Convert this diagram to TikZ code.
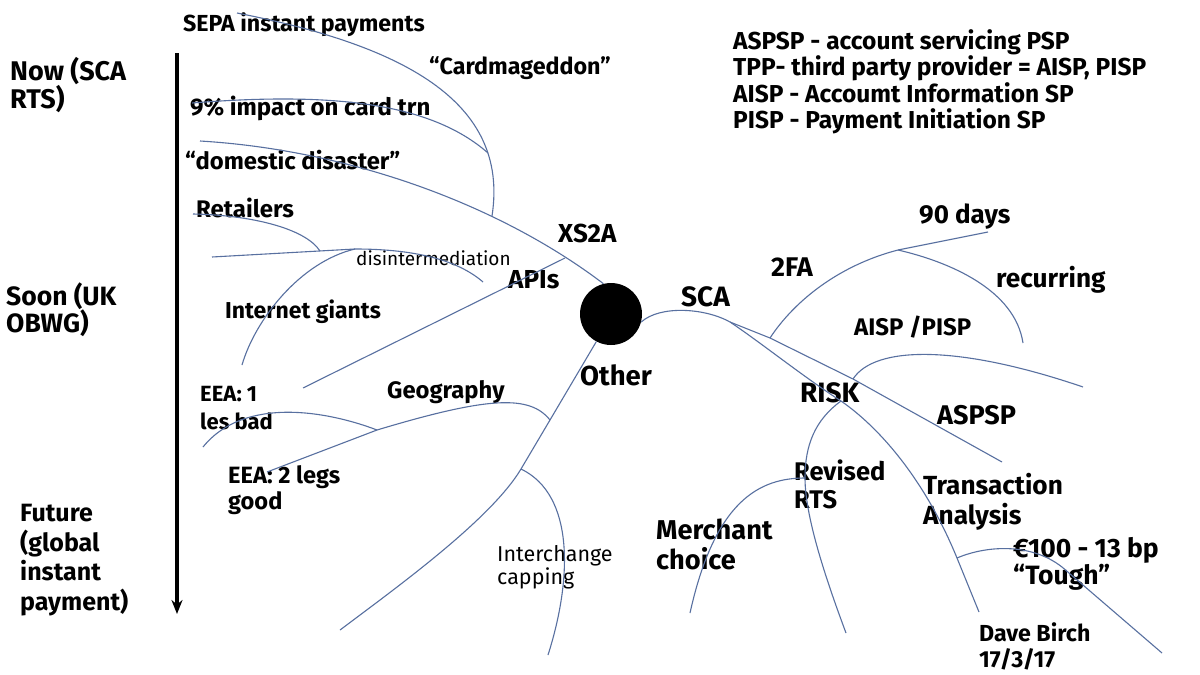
\documentclass[tikz,border=0pt]{standalone}
\usepackage{fontspec}
\setmainfont{Fira Sans}
\usetikzlibrary{arrows.meta}
\definecolor{lineblue}{RGB}{88,112,160}
\begin{document}
\begin{tikzpicture}[x=1pt,y=-1pt,
  lbl/.style n args={2}{inner sep=0pt, anchor=west, align=left, font=\fontsize{#1}{#2}\selectfont\bfseries},
  thinlbl/.style n args={2}{inner sep=0pt, anchor=west, align=left, font=\fontsize{#1}{#2}\selectfont},
  branch/.style={draw=lineblue, line width=1.1pt},
  hubstyle/.style={circle, fill=black, minimum size=62pt, inner sep=0pt}]
\useasboundingbox[fill=white] (0,0) rectangle (1200,675);

% timeline arrow
\coordinate (atop) at (177,53);
\coordinate (abot) at (177,614);
\draw[line width=3.5pt, -{Stealth[length=14pt,width=11pt]}] (atop) -- (abot);

% hub
\node[hubstyle] (hub) at (611,314) {};

% labels
\node[lbl={23.2}{28}] (sepa) at (183,25) {SEPA instant payments};
\node[lbl={27}{28}] (now) at (10,85) {Now (SCA\\RTS)};
\node[lbl={23.3}{28}] (cardm) at (429,68) {“Cardmageddon”};
\node[lbl={24}{28}] (nine) at (190,108) {9\% impact on card trn};
\node[lbl={23.8}{28}] (domestic) at (185,160) {“domestic disaster”};
\node[lbl={24}{28}] (retail) at (196,208) {Retailers};
\node[lbl={26}{28}] (xs2a) at (558,233) {XS2A};
\node[thinlbl={19}{23}] (disint) at (356,258) {disintermediation};
\node[lbl={26}{28}] (apis) at (508,280) {APIs};
\node[lbl={26.5}{27}] (soon) at (6,310) {Soon (UK\\OBWG)};
\node[lbl={23}{28}] (giants) at (225,312) {Internet giants};
\node[lbl={27.5}{28}] (other) at (580,375) {Other};
\node[lbl={22}{28}] (eea1) at (200,408) {EEA: 1\\les bad};
\node[lbl={23.8}{28}] (geo) at (387,392) {Geography};
\node[lbl={23.6}{26}] (eea2) at (228,490) {EEA: 2 legs\\good};
\node[lbl={25}{29.5}] (future) at (20,560) {Future\\(global\\instant\\payment)};
\node[thinlbl={21.5}{23}] (inter) at (497,567) {Interchange\\capping};
\node[lbl={26}{28}] (days) at (919,217) {90 days};
\node[lbl={27}{28}] (twofa) at (771,267) {2FA};
\node[lbl={26.2}{28}] (recur) at (996,280) {recurring};
\node[lbl={28}{28}] (sca) at (681,297) {SCA};
\node[lbl={24}{28}] (aisp) at (854,327) {AISP /PISP};
\node[lbl={28}{28}] (risk) at (800,393) {RISK};
\node[lbl={27}{28}] (aspsp) at (937,415) {ASPSP};
\node[lbl={25.5}{28}] (revised) at (794,484) {Revised\\RTS};
\node[lbl={26.2}{30}] (trans) at (923,502) {Transaction\\Analysis};
\node[lbl={27.2}{30}] (merchant) at (656,544) {Merchant\\choice};
\node[lbl={26.5}{27}] (euro) at (1013,564) {€100 - 13 bp\\“Tough”};
\node[lbl={23.2}{26}] (dave) at (979,646) {Dave Birch\\17/3/17};
\node[lbl={24.5}{26.5}] (legend) at (733,82) {ASPSP - account servicing PSP\\TPP- third party provider = AISP, PISP\\AISP - Accoumt Information SP\\PISP - Payment Initiation SP};

% ---- left side branches ----
\coordinate (dA) at (200,141);
\draw[branch] (dA) .. controls (350,150) and (500,205) .. (hub.104);

\coordinate (sA) at (237,13);
\coordinate (sB) at (492,216);
\draw[branch] (sA) .. controls (400,45) and (510,100) .. (sB);

\coordinate (nA) at (192,103);
\coordinate (nB) at (488,153);
\draw[branch] (nA) .. controls (330,92) and (430,102) .. (nB);

\coordinate (rA) at (193,214);
\coordinate (rB) at (320,251);
\draw[branch] (rA) .. controls (250,215) and (305,228) .. (rB);

\coordinate (iA) at (212,257);
\coordinate (iJ) at (355,249);
\coordinate (iB) at (483,282);
\draw[branch] (iA) -- (iJ) .. controls (420,249) and (460,262) .. (iB);

\coordinate (gB) at (242,365);
\draw[branch] (iJ) .. controls (300,262) and (255,320) .. (gB);

\coordinate (apA) at (303,388);
\coordinate (apB) at (565,258);
\draw[branch] (apA) -- (apB);

\coordinate (oJ1) at (550,420);
\coordinate (oJ2) at (521,469);
\coordinate (oB) at (340,630);
\draw[branch] (hub.242) -- (oJ1) -- (oJ2) .. controls (491,519) and (400,585) .. (oB);

\coordinate (geoJ) at (377,430);
\coordinate (geoB) at (267,472);
\draw[branch] (oJ1) .. controls (530,395) and (490,396) .. (geoJ) -- (geoB);

\coordinate (e1B) at (203,447);
\draw[branch] (geoJ) .. controls (330,412) and (245,395) .. (e1B);

\coordinate (icB) at (548,655);
\draw[branch] (oJ2) .. controls (575,495) and (572,580) .. (icB);

% ---- right side branches ----
\coordinate (scaJ) at (730,322);
\draw[branch] (hub.-15) .. controls (660,305) and (705,308) .. (scaJ);

\coordinate (fJ) at (770,338);
\coordinate (aJ) at (853,379);
\coordinate (upB) at (1002,462);
\draw[branch] (scaJ) -- (fJ) -- (aJ) -- (upB);

\coordinate (rJ) at (841,401);
\draw[branch] (scaJ) .. controls (760,342) and (805,378) .. (rJ);

\coordinate (tJ) at (898,250);
\coordinate (tB) at (988,232);
\draw[branch] (fJ) .. controls (795,300) and (840,265) .. (tJ) -- (tB);

\coordinate (recB) at (1023,343);
\draw[branch] (tJ) .. controls (950,262) and (1015,290) .. (recB);

\coordinate (apsB) at (1083,387);
\draw[branch] (aJ) .. controls (875,345) and (960,345) .. (apsB);

\coordinate (trJ) at (957,558);
\coordinate (trB) at (979,612);
\draw[branch] (rJ) .. controls (880,428) and (925,480) .. (trJ) -- (trB);

\coordinate (euJ) at (1062,567);
\coordinate (euB) at (1162,653);
\draw[branch] (trJ) .. controls (985,546) and (1030,542) .. (euJ) -- (euB);

\coordinate (mJ) at (805,478);
\coordinate (rvB) at (846,633);
\draw[branch] (rJ) .. controls (815,420) and (805,445) .. (mJ) .. controls (805,520) and (830,590) .. (rvB);

\coordinate (meB) at (690,613);
\draw[branch] (mJ) .. controls (760,478) and (715,500) .. (meB);
\end{tikzpicture}
\end{document}
